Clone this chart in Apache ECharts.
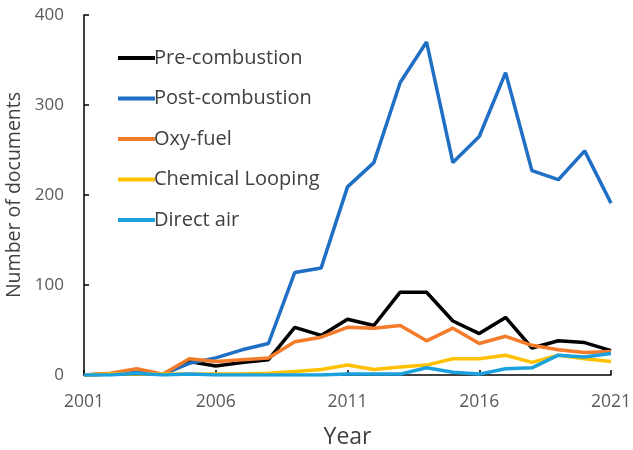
<!DOCTYPE html>
<html><head><meta charset="utf-8">
<script src="https://cdn.jsdelivr.net/npm/echarts@6/dist/echarts.min.js"></script>
<style>html,body{margin:0;padding:0;background:#fff}#c{width:633px;height:450px}</style>
</head><body><div id="c"></div>
<script>
const years = ["2001","2002","2003","2004","2005","2006","2007","2008","2009","2010","2011","2012","2013","2014","2015","2016","2017","2018","2019","2020","2021"];
const preCombustion = [0,1,2,1,15,10,14,17,53,44,62,55,92,92,60,46,64,30,38,36,27];
const postCombustion = [0,1,3,1,13,19,28,35,114,119,209,236,325,370,236,265,336,227,217,249,191];
const oxyFuel = [0,2,7,1,18,15,17,19,37,42,53,52,55,38,52,35,43,33,28,25,26];
const chemicalLooping = [0,1,1,1,1,1,1,2,4,6,11,6,9,11,18,18,22,14,22,18,15];
const directAir = [0,0,2,0,1,0,0,0,0,0,1,1,1,8,3,1,7,8,22,20,24];
const seriesNames = ["Pre-combustion","Post-combustion","Oxy-fuel","Chemical Looping","Direct air"];
const yTicks = [0,100,200,300,400];

const colors = ["#000000","#1F6FC5","#F47B2A","#FFC000","#1BA1DE"];
const dataSets = [preCombustion, postCombustion, oxyFuel, chemicalLooping, directAir];
const font = "'Open Sans', 'Liberation Sans', sans-serif";

const chart = echarts.init(document.getElementById('c'), null, {renderer:'canvas'});
chart.setOption({
  animation:false,
  color: colors,
  grid:{left:84,right:22,top:15,bottom:75,containLabel:false,outerBoundsMode:'none'},
  legend:{
    orient:'vertical', left:113, top:43, itemGap:20.5,
    itemWidth:37, itemHeight:4, icon:'rect',
    textStyle:{fontFamily:font,fontSize:20,lineHeight:20,color:'#404040',padding:[0,0,0,-6]},
    data: seriesNames
  },
  xAxis:{
    type:'category', data:years, boundaryGap:false,
    name:'Year', nameLocation:'middle', nameGap:51,
    nameTextStyle:{fontFamily:font,fontSize:23,color:'#404040'},
    axisLine:{lineStyle:{color:'#000',width:1.5}},
    axisTick:{inside:true,interval:4,length:5,lineStyle:{color:'#000',width:1.5}},
    axisLabel:{interval:4,fontFamily:font,fontSize:17.5,color:'#595959',margin:18},
    splitLine:{show:false}
  },
  yAxis:{
    type:'value', min:yTicks[0], max:yTicks[yTicks.length-1], interval:100,
    name:'Number of documents', nameLocation:'middle', nameGap:59, nameRotate:90,
    nameTextStyle:{fontFamily:font,fontSize:19.5,color:'#404040'},
    axisLine:{show:true,lineStyle:{color:'#000',width:1.5}},
    axisTick:{show:true,inside:true,length:5,lineStyle:{color:'#000',width:1.5}},
    axisLabel:{fontFamily:font,fontSize:17,color:'#595959',margin:20},
    splitLine:{show:false}
  },
  series: seriesNames.map((n,i)=>({
    name:n, type:'line', data:dataSets[i], showSymbol:false, symbol:'none',
    lineStyle:{width:3.5,color:colors[i]}, itemStyle:{color:colors[i]}, z:2+i
  }))
});
</script></body></html>
